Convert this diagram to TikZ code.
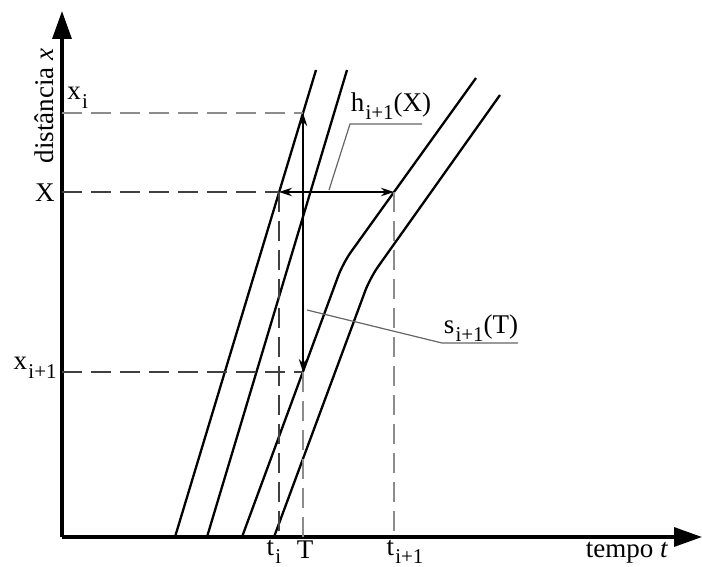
\documentclass[tikz,border=0pt]{standalone}
\usepackage{fontspec}
\setmainfont{Liberation Serif}
\usetikzlibrary{arrows.meta}
\newcommand{\lsub}[1]{\kern0.6pt\raisebox{-0.7ex}{\fontsize{10.5}{11}\selectfont #1}}
\begin{document}
\begin{tikzpicture}[x=0.5pt, y=-0.5pt,
  every node/.style={font=\fontsize{13.5}{15}\selectfont, inner sep=0pt},
  axis/.style={line width=1.7pt, -{Triangle[length=14pt,width=9.5pt]}},
  traj/.style={line width=1.15pt, rounded corners=7pt},
  guide/.style={dash pattern=on 10pt off 4.5pt, line width=0.75pt, black!75},
  guidelt/.style={dash pattern=on 10pt off 4.5pt, line width=0.75pt, black!45},
  span/.style={line width=0.75pt, {Stealth[length=6.5pt,width=4.2pt]}-{Stealth[length=6.5pt,width=4.2pt]}},
  leader/.style={line width=0.6pt, black!60}]
\useasboundingbox (0,0) rectangle (702,567);
% axes
\coordinate (O) at (62,537);
\coordinate (ytop) at (62,11);
\coordinate (xend) at (702,537);
\draw[axis] (O) -- (ytop);
\draw[axis] (O) -- (xend);
% vehicle trajectories
\coordinate (a0) at (175,537); \coordinate (a1) at (316,70);
\coordinate (b0) at (207,537); \coordinate (b1) at (347,70);
\coordinate (c0) at (242,537); \coordinate (cb) at (343,263); \coordinate (c1) at (476,78);
\coordinate (d0) at (274,537); \coordinate (db) at (370,278); \coordinate (d1) at (500,95);
\draw[traj] (a0) -- (a1);
\draw[traj] (b0) -- (b1);
\draw[traj] (c0) -- (cb) -- (c1);
\draw[traj] (d0) -- (db) -- (d1);
% reference points
\coordinate (xi) at (62,113);   \coordinate (Txi) at (303,113);
\coordinate (X) at (62,192);    \coordinate (tiX) at (279,192); \coordinate (tnX) at (394,192);
\coordinate (xn) at (62,372);   \coordinate (Txn) at (303,372);
\coordinate (ti) at (279,537);  \coordinate (T) at (303,537);   \coordinate (tn) at (394,537);
% dashed guides
\draw[guidelt] (xi) -- (Txi);
\draw[guide] (X) -- (tiX);
\draw[guide] (xn) -- (Txn);
\draw[guide] (tiX) -- (ti);
\draw[guidelt] (Txn) -- (T);
\draw[guidelt] (tnX) -- (tn);
% headway and spacing
\draw[span] (Txn) -- (Txi);
\draw[span] (tiX) -- (tnX);
% leaders
\coordinate (hA) at (329,190); \coordinate (hB) at (350,124); \coordinate (hC) at (422,124);
\draw[leader] (hA) -- (hB) -- (hC);
\coordinate (sA) at (307,310); \coordinate (sB) at (442,343); \coordinate (sC) at (518,343);
\draw[leader] (sA) -- (sB) -- (sC);
% labels
\node[anchor=base west] (lxi) at (67,100) {x\lsub{i}};
\node[anchor=east] (lX) at (55,193) {X};
\node[anchor=east] (lxn) at (57,368) {x\lsub{i+1}};
\node[rotate=90] (ldist) at (44,106) {distância \textit{x}};
\node (lti) at (274,552) {t\lsub{i}};
\node (lT) at (305,550) {T};
\node (ltn) at (405,552) {t\lsub{i+1}};
\node (ltempo) at (627,553) {tempo \textit{t}};
\node (lh) at (391,106) {h\lsub{i+1}(X)};
\node (ls) at (481,328) {s\lsub{i+1}(T)};
\end{tikzpicture}
\end{document}
